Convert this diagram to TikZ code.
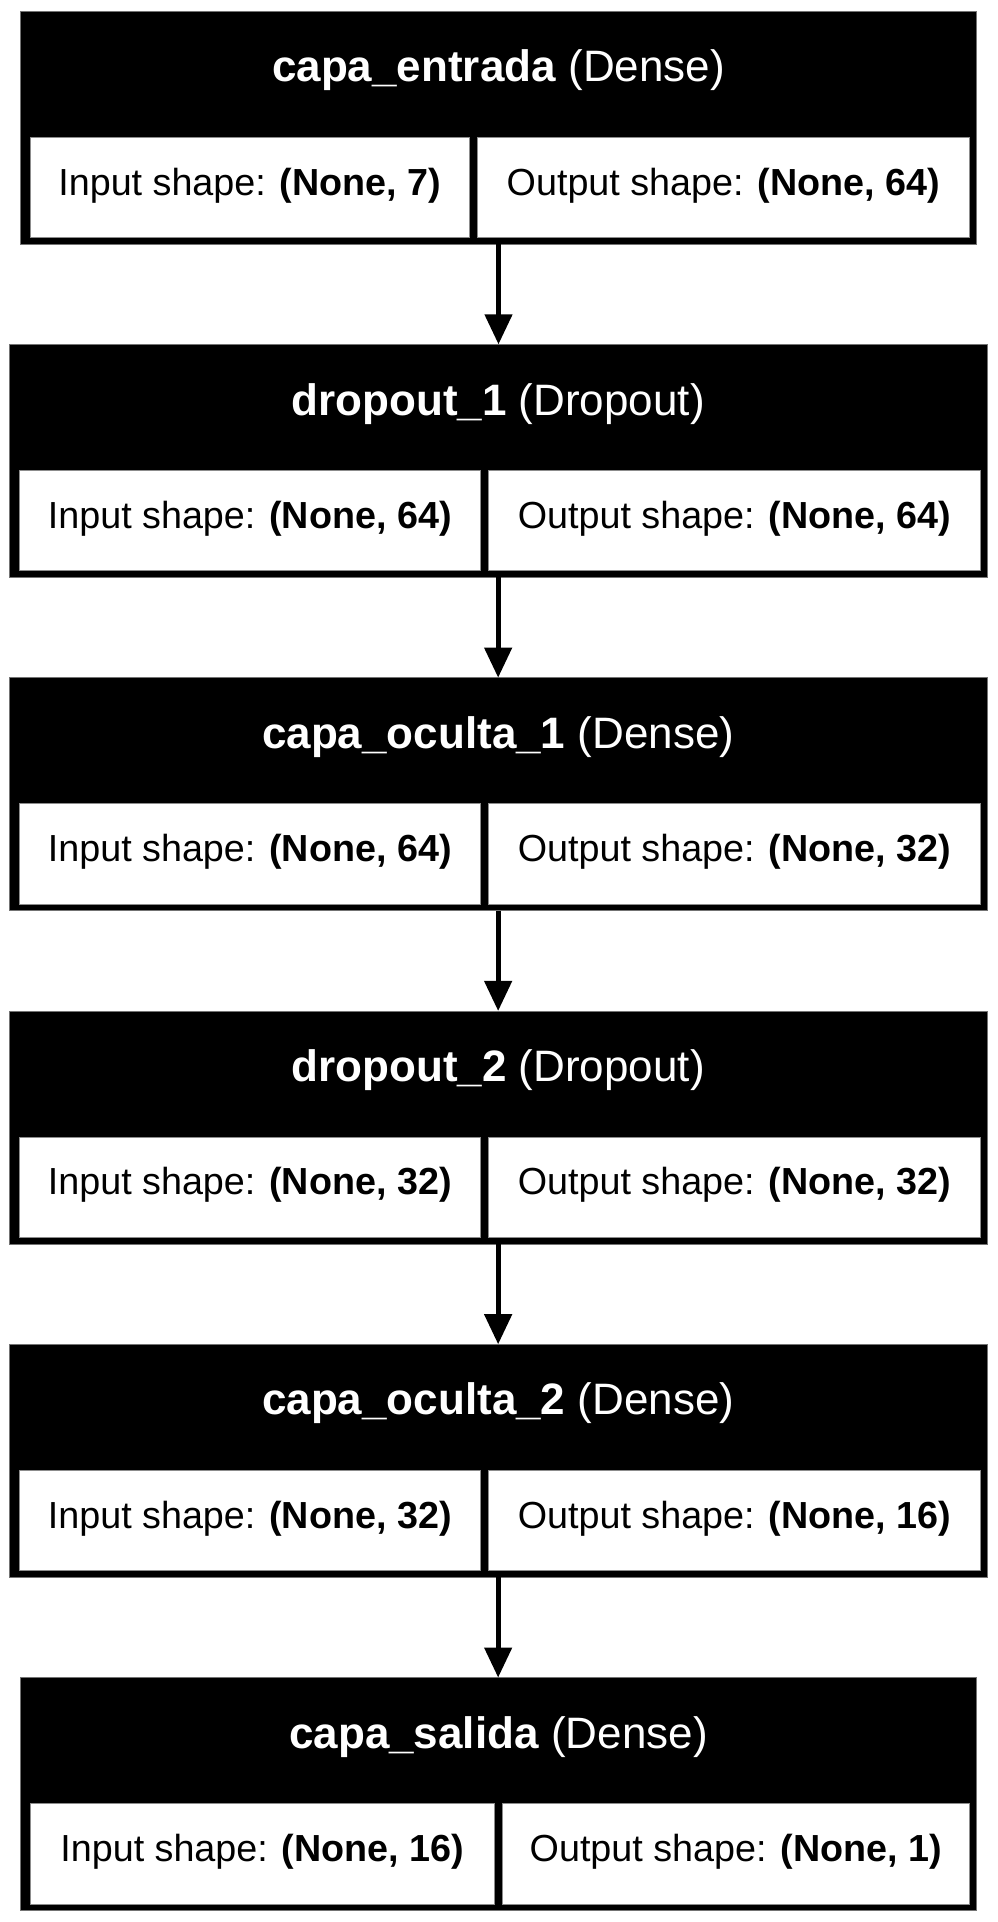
\documentclass[tikz,border=0pt]{standalone}
\usepackage{fontspec}
\setmainfont{Liberation Sans}
\usetikzlibrary{arrows.meta}
\tikzset{
  blk/.style={rectangle, fill=black, draw=black!55, line width=0.6pt, inner sep=0pt, outer sep=0pt, anchor=north west},
  cellbox/.style={rectangle, fill=white, draw=black!45, line width=0.6pt, inner sep=0pt, outer sep=0pt, anchor=north west},
  headtxt/.style={text=white, inner sep=0pt, anchor=base, font=\fontsize{44}{48}\selectfont},
  celltxt/.style={text=black, inner sep=0pt, anchor=base, font=\fontsize{37.7}{42}\selectfont},
  flow/.style={line width=4.7pt, -{Triangle[length=30pt,width=27pt]}},
}
% #1 name, #2 top, #3 left, #4 right, #5 divider centre, #6 bold name, #7 type, #8 input, #9 output
\newcommand\mklayer[9]{%
  \pgfmathsetmacro\myLw{#4-#3}%
  \pgfmathsetmacro\myCla{#3+9.6}%
  \pgfmathsetmacro\myClb{#5-3.8}%
  \pgfmathsetmacro\myCra{#5+3.8}%
  \pgfmathsetmacro\myCrb{#4-6.6}%
  \pgfmathsetmacro\myCtop{#2+126}%
  \pgfmathsetmacro\myWl{\myClb-\myCla}%
  \pgfmathsetmacro\myWr{\myCrb-\myCra}%
  \pgfmathsetmacro\myMid{(#3+#4)/2}%
  \pgfmathsetmacro\myHb{#2+70.7}%
  \pgfmathsetmacro\myCb{#2+184}%
  \node[blk, minimum width=\myLw pt, minimum height=233pt] (#1) at (#3,-#2) {};
  \node[cellbox, minimum width=\myWl pt, minimum height=100.3pt] (#1in) at (\myCla,-\myCtop) {};
  \node[cellbox, minimum width=\myWr pt, minimum height=100.3pt] (#1out) at (\myCra,-\myCtop) {};
  \node[headtxt] (#1h) at (\myMid,-\myHb) {\textbf{#6} #7};
  \node[celltxt] (#1it) at ({(\myCla+\myClb)/2},-\myCb) {Input shape: \textbf{#8}};
  \node[celltxt] (#1ot) at ({(\myCra+\myCrb)/2},-\myCb) {Output shape: \textbf{#9}};
}
\begin{document}
\begin{tikzpicture}[x=1pt,y=1pt]
\useasboundingbox[fill=white] (0,0) rectangle (997,-1922);
\mklayer{b1}{11}{20.7}{976.3}{473}{capa\_entrada}{(Dense)}{(None, 7)}{(None, 64)}
\mklayer{b2}{344.3}{9.3}{987}{484.5}{dropout\_1}{(Dropout)}{(None, 64)}{(None, 64)}
\mklayer{b3}{677.6}{9.3}{987}{484.5}{capa\_oculta\_1}{(Dense)}{(None, 64)}{(None, 32)}
\mklayer{b4}{1010.9}{9.3}{987}{484.5}{dropout\_2}{(Dropout)}{(None, 32)}{(None, 32)}
\mklayer{b5}{1344.2}{9.3}{987}{484.5}{capa\_oculta\_2}{(Dense)}{(None, 32)}{(None, 16)}
\mklayer{b6}{1677.5}{20.7}{976.3}{498}{capa\_salida}{(Dense)}{(None, 16)}{(None, 1)}
\draw[flow] (b1.south) -- (b1.south |- b2.north);
\draw[flow] (b2.south) -- (b2.south |- b3.north);
\draw[flow] (b3.south) -- (b3.south |- b4.north);
\draw[flow] (b4.south) -- (b4.south |- b5.north);
\draw[flow] (b5.south) -- (b5.south |- b6.north);
\end{tikzpicture}
\end{document}
